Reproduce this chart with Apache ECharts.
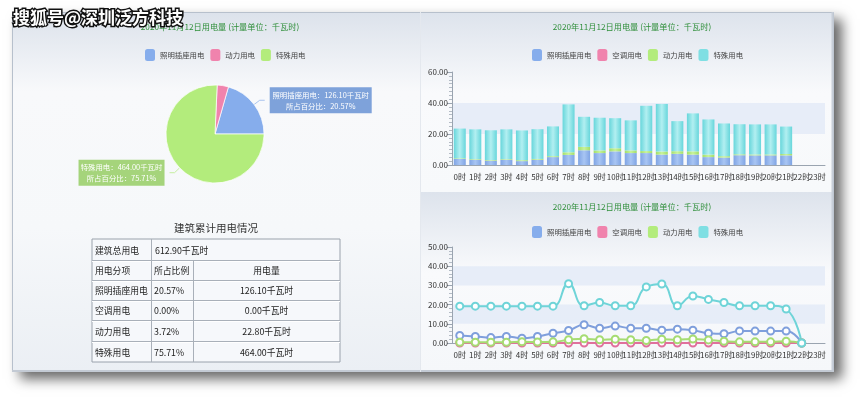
<!DOCTYPE html>
<html>
<head>
<meta charset="utf-8">
<script src="https://cdn.jsdelivr.net/npm/echarts@6/dist/echarts.min.js"></script>
<style>
html,body{margin:0;padding:0;background:#fff;}
#main{width:860px;height:397px;}
</style>
</head>
<body>
<div id="main"></div>
<script>
// ---------- DATA ----------
const hours = ['0时','1时','2时','3时','4时','5时','6时','7时','8时','9时','10时','11时','12时','13时','14时','15时','16时','17时','18时','19时','20时','21时','22时','23时'];
const lighting = [3.9,3.4,2.8,3.4,2.5,3.4,5.1,6.5,9.5,7.7,8.8,7.7,7.7,6.7,7.2,6.7,5.1,4.8,6.3,6.2,6.2,6.2,0,null];
const aircon   = [0,0,0,0,0,0,0,0,0,0,0,0,0,0,0,0,0,0,0,0,0,0,0,null];
const power    = [0.4,0.4,0.4,0.4,0.6,0.5,0.6,1.7,2.2,1.7,2.0,1.7,1.3,2.0,1.7,2.1,1.6,0.9,0.6,0.6,0.6,0.9,0,null];
const special  = [19.2,19.2,19.2,19.2,19.2,19.2,19.2,30.9,19.4,21.1,19.4,19.4,29.2,30.7,19.4,24.5,22.7,21.1,19.4,19.4,19.4,17.7,0,null];
const seriesNames = ['照明插座用电','空调用电','动力用电','特殊用电'];
const pieNames = ['照明插座用电','动力用电','特殊用电'];
const pieValues = [126.10, 22.80, 464.00];
const tableCategories = ['照明插座用电','空调用电','动力用电','特殊用电'];
const tableValues = [126.10, 0.00, 22.80, 464.00];
const tableHeaders = ['用电分项','所占比例','用电量'];
const totalLabel = '建筑总用电';
const tableTitle = '建筑累计用电情况';
const chartTitle = '2020年11月12日用电量 (计量单位：千瓦时)';
const barTicks = [0, 20, 40, 60];
const lineTicks = [0, 10, 20, 30, 40, 50];
const watermark = '搜狐号@深圳泛方科技';

// ---------- STYLE ----------
const FF = '"Noto Sans CJK SC","Noto Sans",sans-serif';
const C = {blue:'#86adec', pink:'#f083ad', green:'#b3ec7c', cyan:'#7fdfe3'};
const lineColors = ['#7f9fdc','#e0709c','#a6dc72','#6fd4d8'];
function grad(edge, mid){
  return new echarts.graphic.LinearGradient(0,0,1,0,[{offset:0,color:edge},{offset:0.5,color:mid},{offset:1,color:edge}]);
}
const barColors = [grad('#7fa4e4','#a8c5f3'), grad('#ec78a6','#f6a9c8'), grad('#a2de68','#c8f39c'), grad('#67d6db','#b2eff1')];

const chart = echarts.init(document.getElementById('main'), null, {renderer:'canvas'});

// ---------- TABLE (graphic built from arrays) ----------
const total = tableValues.reduce((a,b)=>a+b,0);
const colX = [92,151,193,340];
const rowY = [239,260,280,300,320,341,362];
const tableEls = [];
const lineStroke = '#a9b0b9';
tableEls.push({type:'rect', z:5, shape:{x:colX[0],y:rowY[0],width:colX[3]-colX[0],height:rowY[6]-rowY[0]}, style:{fill:'#f6f8fb',stroke:'#9aa2ac',lineWidth:1}});
for(let i=1;i<rowY.length-1;i++){
  tableEls.push({type:'line', z:6, shape:{x1:colX[0],y1:rowY[i]+0.5,x2:colX[3],y2:rowY[i]+0.5}, style:{stroke:lineStroke,lineWidth:1}});
  tableEls.push({type:'line', z:6, shape:{x1:colX[0],y1:rowY[i]+1.5,x2:colX[3],y2:rowY[i]+1.5}, style:{stroke:'#ffffff',lineWidth:1}});
}
tableEls.push({type:'line', z:6, shape:{x1:colX[1]+0.5,y1:rowY[0],x2:colX[1]+0.5,y2:rowY[6]}, style:{stroke:lineStroke,lineWidth:1}});
tableEls.push({type:'line', z:6, shape:{x1:colX[2]+0.5,y1:rowY[1],x2:colX[2]+0.5,y2:rowY[6]}, style:{stroke:lineStroke,lineWidth:1}});
function cellText(txt, x, y, align){
  tableEls.push({type:'text', z:7, style:{text:txt, x:x, y:y, align:align, verticalAlign:'middle', fill:'#222', fontSize:8.8, fontFamily:FF}});
}
function midY(r){return (rowY[r]+rowY[r+1])/2+1;}
cellText(totalLabel, colX[0]+3, midY(0), 'left');
cellText(total.toFixed(2)+'千瓦时', colX[1]+4, midY(0), 'left');
cellText(tableHeaders[0], colX[0]+3, midY(1), 'left');
cellText(tableHeaders[1], colX[1]+3, midY(1), 'left');
cellText(tableHeaders[2], (colX[2]+colX[3])/2, midY(1), 'center');
tableCategories.forEach((name,i)=>{
  const r = i+2;
  cellText(name, colX[0]+3, midY(r), 'left');
  cellText((tableValues[i]/total*100).toFixed(2)+'%', colX[1]+3, midY(r), 'left');
  cellText(tableValues[i].toFixed(2)+'千瓦时', (colX[2]+colX[3])/2, midY(r), 'center');
});
tableEls.push({type:'text', z:7, style:{text:tableTitle, x:216, y:228, align:'center', verticalAlign:'middle', fill:'#333', fontSize:10.5, fontFamily:FF}});

// ---------- BACKGROUND ----------
function vgrad(stops){return new echarts.graphic.LinearGradient(0,0,0,1,stops);}
const bgEls = [
  {type:'rect', z:-20, shape:{x:12,y:12,width:822,height:360}, style:{fill:'#e9edf2', shadowBlur:12, shadowColor:'rgba(0,0,0,0.6)', shadowOffsetX:8, shadowOffsetY:7}},
  {type:'rect', z:-19, shape:{x:12,y:12,width:408,height:360}, style:{fill:vgrad([{offset:0,color:'#dce2eb'},{offset:0.22,color:'#f8f9fb'},{offset:0.6,color:'#f6f8fa'},{offset:1,color:'#ebeff4'}])}},
  {type:'rect', z:-19, shape:{x:420,y:12,width:414,height:180}, style:{fill:vgrad([{offset:0,color:'#dde3ec'},{offset:0.45,color:'#f9fafc'},{offset:1,color:'#f7f9fb'}])}},
  {type:'rect', z:-19, shape:{x:420,y:192,width:414,height:180}, style:{fill:vgrad([{offset:0,color:'#dde3ec'},{offset:0.45,color:'#f9fafc'},{offset:1,color:'#f5f7fa'}])}},
  {type:'rect', z:-18, shape:{x:12.5,y:12.5,width:821,height:359}, style:{fill:'none', stroke:'#b7c0cc', lineWidth:1}},
  {type:'line', z:-18, shape:{x1:832.5,y1:12,x2:832.5,y2:372}, style:{stroke:'#c7ced8', lineWidth:2}},
  {type:'line', z:-18, shape:{x1:12,y1:371,x2:834,y2:371}, style:{stroke:'#c3cad4', lineWidth:2}},
  {type:'line', z:-18, shape:{x1:420.5,y1:12,x2:420.5,y2:372}, style:{stroke:'#e4e8ee', lineWidth:1}}
];
const wmEl = {type:'text', z:200, style:{text:watermark, x:13, y:18, verticalAlign:'middle', fill:'#ffffff', stroke:'#111', lineWidth:3, fontSize:17, fontWeight:'bold', fontFamily:FF}};

// ---------- AXES ----------
function yAxisCfg(gi, ticks){
  const step = ticks[1]-ticks[0];
  return {
    type:'value', gridIndex:gi, min:ticks[0], max:ticks[ticks.length-1], interval:step,
    axisLine:{show:true, lineStyle:{color:'#9aa4b0'}},
    axisTick:{show:true, length:5, lineStyle:{color:'#9aa4b0'}},
    minorTick:{show:true, splitNumber:gi===0?8:5, length:3, lineStyle:{color:'#b3bbc5'}},
    axisLabel:{fontSize:8, color:'#333', margin:4, fontFamily:FF, formatter:v=>v.toFixed(2)},
    splitLine:{show:false},
    splitArea:{show:true, areaStyle:{color:['rgba(255,255,255,0)','rgba(221,231,246,0.65)']}}
  };
}
function xAxisCfg(gi){
  return {
    type:'category', gridIndex:gi, data:hours, boundaryGap:true,
    axisLine:{lineStyle:{color:'#9aa4b0'}},
    axisTick:{alignWithLabel:true, length:6, lineStyle:{color:'#9aa4b0'}},
    axisLabel:{interval:0, fontSize:8, color:'#333', margin:8, fontFamily:FF}
  };
}

const legendText = {fontSize:7.4, color:'#444', fontFamily:FF};
const barData = [lighting, aircon, power, special];

const series = [];
seriesNames.forEach((n,i)=>{
  series.push({
    name:n, type:'bar', xAxisIndex:0, yAxisIndex:0, stack:'total', barWidth:12,
    data:barData[i].map(v => v === 0 ? null : v),
    itemStyle:{color:barColors[i]}
  });
});
seriesNames.forEach((n,i)=>{
  series.push({
    name:n, type:'line', xAxisIndex:1, yAxisIndex:1, data:barData[i], smooth:true,
    symbol:'emptyCircle', symbolSize:7, showAllSymbol:true, z:3+(i===1?0:1),
    lineStyle:{width:2, color:lineColors[i]},
    itemStyle:{color:lineColors[i], borderWidth:1.3}
  });
});

const pieColors = [C.blue, C.pink, C.green];
const pieLabelBg = ['#7ea2da', null, '#a5d47b'];
const pieLabelW = [100, 0, 84];
series.push({
  type:'pie', center:[215,134], radius:49, startAngle:0, clockwise:false,
  legendHoverLink:false,
  itemStyle:{borderColor:'rgba(255,255,255,0.7)', borderWidth:1},
  labelLine:{length:7, length2:5, lineStyle:{width:1}},
  data: pieNames.map((n,i)=>({
    name:n, value:pieValues[i],
    itemStyle:{color:pieColors[i]},
    label: pieLabelBg[i] ? {
      show:true, position:'outside', backgroundColor:pieLabelBg[i], padding:[2,1],
      formatter: p => '{t|'+p.name+'：'+p.value.toFixed(2)+'千瓦时}\n{t|所占百分比：'+p.percent.toFixed(2)+'%}',
      rich:{t:{width:pieLabelW[i], align:'center', color:'#fff', fontSize:7.4, lineHeight:11, fontFamily:FF}}
    } : {show:false},
    labelLine: pieLabelBg[i] ? {lineStyle:{color: i===0?'#a9c4ef':'#c6eea0'}} : {show:false}
  }))
});

const option = {
  animation:false,
  backgroundColor:'#ffffff',
  title:[
    {text:chartTitle, left:215, top:18, textAlign:'center', textStyle:{fontSize:8.2, fontWeight:'normal', color:'#2f8f3a', fontFamily:FF}},
    {text:chartTitle, left:627, top:18, textAlign:'center', textStyle:{fontSize:8.2, fontWeight:'normal', color:'#2f8f3a', fontFamily:FF}},
    {text:chartTitle, left:627, top:198, textAlign:'center', textStyle:{fontSize:8.2, fontWeight:'normal', color:'#2f8f3a', fontFamily:FF}}
  ],
  legend:[
    {data:pieNames.map((n,i)=>({name:n, itemStyle:{color:pieColors[i]}})), left:140, top:44, itemWidth:10, itemHeight:12, itemGap:6, icon:'roundRect', textStyle:legendText, selectedMode:false},
    {data:seriesNames.map((n,i)=>({name:n, itemStyle:{color:[C.blue,C.pink,C.green,C.cyan][i]}})), left:527, top:44, itemWidth:10, itemHeight:12, itemGap:6, icon:'roundRect', textStyle:legendText, selectedMode:false},
    {data:seriesNames.map((n,i)=>({name:n, itemStyle:{color:[C.blue,C.pink,C.green,C.cyan][i]}})), left:527, top:221, itemWidth:10, itemHeight:12, itemGap:6, icon:'roundRect', textStyle:legendText, selectedMode:false}
  ],
  grid:[
    {left:452, right:35, top:72, bottom:232},
    {left:452, right:35, top:247, bottom:54}
  ],
  xAxis:[xAxisCfg(0), xAxisCfg(1)],
  yAxis:[yAxisCfg(0, barTicks), yAxisCfg(1, lineTicks)],
  graphic:[{type:'group', elements: bgEls.concat(tableEls).concat([wmEl])}],
  series:series
};
chart.setOption(option);
</script>
</body>
</html>
